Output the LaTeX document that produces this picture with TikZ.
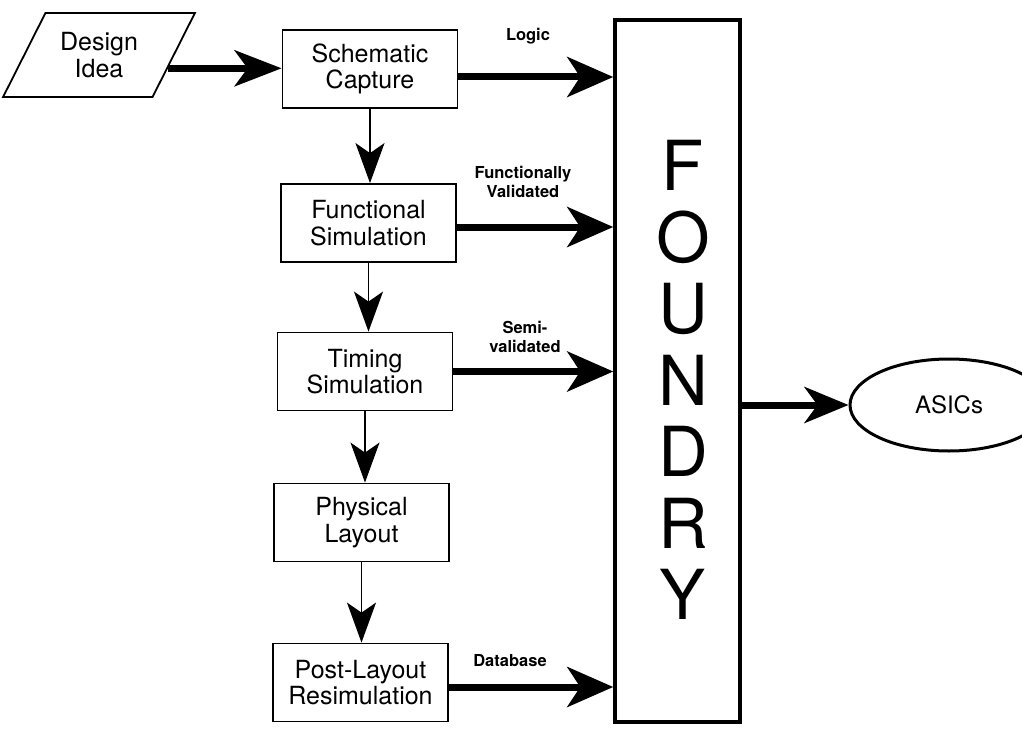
\documentclass[tikz,border=0pt]{standalone}
\usepackage{fontspec}
\setmainfont{TeX Gyre Heros}
\usetikzlibrary{arrows.meta,shapes.geometric,calc}

\begin{document}
\begin{tikzpicture}[x=1pt,y=-1pt,
  stage/.style={draw, line width=1.8pt, minimum width=175pt, minimum height=78pt,
    align=center, inner sep=0pt, font=\fontsize{25}{26.5}\selectfont},
  feed/.style={line width=7pt, -{Stealth[length=46pt,width=40pt,inset=13pt]}},
  down/.style={line width=1.6pt, -{Stealth[length=40pt,width=29pt,inset=10pt]}},
  tag/.style={font=\bfseries\fontsize{16.5}{19.5}\selectfont, align=center}]
\useasboundingbox (0,0) rectangle (1022,730);

% design entry
\node[draw, line width=1.8pt, trapezium, trapezium left angle=56, trapezium right angle=124,
  trapezium stretches=true, minimum width=192pt, minimum height=84pt,
  align=center, inner sep=0pt, font=\fontsize{25}{27}\selectfont]
  (idea) at (99,55) {Design\\Idea};

% flow stages
\node[stage] (sch)  at (370,69)    {Schematic\\Capture};
\node[stage] (fun)  at (368.5,223) {Functional\\Simulation};
\node[stage] (tim)  at (365,371.5) {Timing\\Simulation};
\node[stage] (phy)  at (361.5,522.5) {Physical\\Layout};
\node[stage] (post) at (360.5,682.5) {Post-Layout\\Resimulation};

% foundry and product
\node[draw, line width=3.5pt, minimum width=125pt, minimum height=702pt, inner sep=0pt]
  (found) at (677.5,371) {};
\node[align=center, inner sep=0pt, font=\fontsize{69}{71.5}\selectfont]
  (word) at (683,380) {F\\O\\U\\N\\D\\R\\Y};
\node[draw, ellipse, line width=3pt, minimum width=198pt, minimum height=92pt,
  font=\fontsize{24}{28}\selectfont] (asic) at (949,405) {ASICs};

% main flow
\coordinate (ideaout) at ($(idea.bottom right corner)!0.345!(idea.top right corner)$);
\draw[line width=7pt, -{Stealth[length=47pt,width=36pt,inset=13pt]}]
  (ideaout) -- (ideaout -| sch.west);
\draw[down] (sch.south) -- (sch.south |- fun.north);
\draw[down] (fun.south) -- (fun.south |- tim.north);
\draw[down] (tim.south) -- (tim.south |- phy.north);
\draw[down] (phy.south) -- (phy.south |- post.north);

% hand-offs to the foundry
\draw[feed] ([yshift=-8pt]sch.east) -- ([yshift=-8pt]sch.east -| found.west);
\draw[feed] ([yshift=-4pt]fun.east) -- ([yshift=-4pt]fun.east -| found.west);
\draw[feed] (tim.east) -- (tim.east -| found.west);
\draw[feed] ([yshift=-4.5pt]post.east) -- ([yshift=-4.5pt]post.east -| found.west);
\draw[line width=7pt, -{Stealth[length=44pt,width=36pt,inset=13pt]}]
  (found.east |- asic.west) -- (asic.west);

% hand-off labels
\node[tag] (lLogic) at (528,36)  {Logic};
\node[tag] (lFun)   at (523,182) {Functionally\\Validated};
\node[tag] (lSemi)  at (525,337) {Semi-\\validated};
\node[tag] (lData)  at (510,661) {Database};
\end{tikzpicture}
\end{document}
